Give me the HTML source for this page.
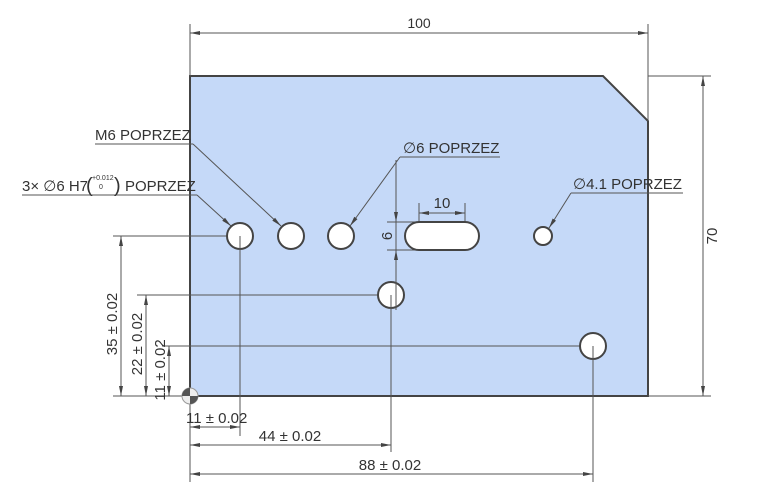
<!DOCTYPE html>
<html><head><style>
html,body{margin:0;padding:0;background:#fff;}
svg{display:block;}
text{font-family:"Liberation Sans","DejaVu Sans",sans-serif;fill:#333;}
</style></head><body>
<svg width="780" height="490" viewBox="0 0 780 490" xmlns="http://www.w3.org/2000/svg">
<defs>
<marker id="a" viewBox="0 0 10 6" refX="10" refY="3" markerWidth="10" markerHeight="6" orient="auto-start-reverse" markerUnits="userSpaceOnUse"><path d="M0,1 L10,3 L0,5z" fill="#444"/></marker>
</defs>
<path d="M190,76 L603,76 L648,121 L648,396 L190,396 Z" fill="#c5d9f8" stroke="#444" stroke-width="2"/>
<g stroke="#555" stroke-width="1" fill="none">
<line x1="190" y1="24" x2="190" y2="76"/><line x1="648" y1="24" x2="648" y2="121"/>
<line x1="190" y1="33" x2="648" y2="33" marker-start="url(#a)" marker-end="url(#a)"/>
<line x1="648" y1="76" x2="711" y2="76"/><line x1="648" y1="396" x2="711" y2="396"/>
<line x1="703" y1="76" x2="703" y2="396" marker-start="url(#a)" marker-end="url(#a)"/>
<line x1="113" y1="396" x2="190" y2="396"/>
<line x1="113" y1="236" x2="240" y2="236"/>
<line x1="121" y1="236" x2="121" y2="396" marker-start="url(#a)" marker-end="url(#a)"/>
<line x1="137" y1="295" x2="391" y2="295"/>
<line x1="146" y1="295" x2="146" y2="396" marker-start="url(#a)" marker-end="url(#a)"/>
<line x1="162" y1="346" x2="593" y2="346"/>
<line x1="169" y1="346" x2="169" y2="396" marker-start="url(#a)" marker-end="url(#a)"/>
<line x1="190" y1="396" x2="190" y2="482"/>
<line x1="240" y1="236" x2="240" y2="436"/>
<line x1="190" y1="427" x2="240" y2="427" marker-start="url(#a)" marker-end="url(#a)"/>
<line x1="391" y1="295" x2="391" y2="452"/>
<line x1="190" y1="445" x2="391" y2="445" marker-start="url(#a)" marker-end="url(#a)"/>
<line x1="593" y1="346" x2="593" y2="482"/>
<line x1="190" y1="474" x2="593" y2="474" marker-start="url(#a)" marker-end="url(#a)"/>
<line x1="387" y1="222" x2="420" y2="222"/><line x1="387" y1="250" x2="420" y2="250"/>
<line x1="396" y1="160" x2="396" y2="222" marker-end="url(#a)"/>
<line x1="396" y1="222" x2="396" y2="250"/>
<line x1="396" y1="310" x2="396" y2="250" marker-end="url(#a)"/>
<line x1="419" y1="203" x2="419" y2="235"/><line x1="465" y1="203" x2="465" y2="235"/>
<line x1="419" y1="213" x2="465" y2="213" marker-start="url(#a)" marker-end="url(#a)"/>
<line x1="95" y1="144" x2="193" y2="144"/><line x1="193" y1="144" x2="281" y2="226" marker-end="url(#a)"/>
<line x1="22" y1="195" x2="197" y2="195"/><line x1="197" y1="195" x2="231" y2="226" marker-end="url(#a)"/>
<line x1="400" y1="157" x2="500" y2="157"/><line x1="400" y1="157" x2="350" y2="226" marker-end="url(#a)"/>
<line x1="571" y1="193" x2="683" y2="193"/><line x1="571" y1="193" x2="549" y2="228" marker-end="url(#a)"/>
</g>
<g fill="#fff" stroke="#444" stroke-width="2">
<circle cx="240" cy="236" r="13"/><circle cx="291" cy="236" r="13"/><circle cx="341" cy="236" r="13"/>
<circle cx="391" cy="295" r="13"/><circle cx="593" cy="346" r="13"/><circle cx="543" cy="236" r="9"/>
<rect x="405" y="222" width="74" height="28" rx="14" ry="14"/>
</g>
<g stroke="#555" stroke-width="1">
<line x1="240" y1="236" x2="240" y2="250"/><line x1="391" y1="295" x2="391" y2="310"/><line x1="593" y1="346" x2="593" y2="360"/>
<line x1="396" y1="282" x2="396" y2="310"/>
</g>
<circle cx="190" cy="396" r="8" fill="#eee" stroke="#999"/>
<path d="M190,396 L182,396 A8,8 0 0 1 190,388Z" fill="#555"/>
<path d="M190,396 L198,396 A8,8 0 0 1 190,404Z" fill="#555"/>
<g font-size="15">
<text x="419" y="28" text-anchor="middle" font-size="14">100</text>
<text x="95" y="140">M6 POPRZEZ</text>
<text x="22" y="191">3× ∅6 H7</text>
<text x="86" y="192" font-size="20">(</text><text x="114" y="192" font-size="20">)</text>
<text x="92" y="180" font-size="7">+0.012</text><text x="99" y="189" font-size="7">0</text>
<text x="125" y="191">POPRZEZ</text>
<text x="403" y="153">∅6 POPRZEZ</text>
<text x="573" y="189">∅4.1 POPRZEZ</text>
<text x="442" y="208" text-anchor="middle">10</text>
<text x="186" y="423">11 ± 0.02</text>
<text x="290" y="441" text-anchor="middle">44 ± 0.02</text>
<text x="390" y="470" text-anchor="middle">88 ± 0.02</text>
<text transform="translate(392,236) rotate(-90)" text-anchor="middle">6</text>
<text transform="translate(717,236) rotate(-90)" text-anchor="middle">70</text>
<text transform="translate(117,324) rotate(-90)" text-anchor="middle">35 ± 0.02</text>
<text transform="translate(142,344) rotate(-90)" text-anchor="middle">22 ± 0.02</text>
<text transform="translate(165,370) rotate(-90)" text-anchor="middle">11 ± 0.02</text>
</g>
</svg>
</body></html>
